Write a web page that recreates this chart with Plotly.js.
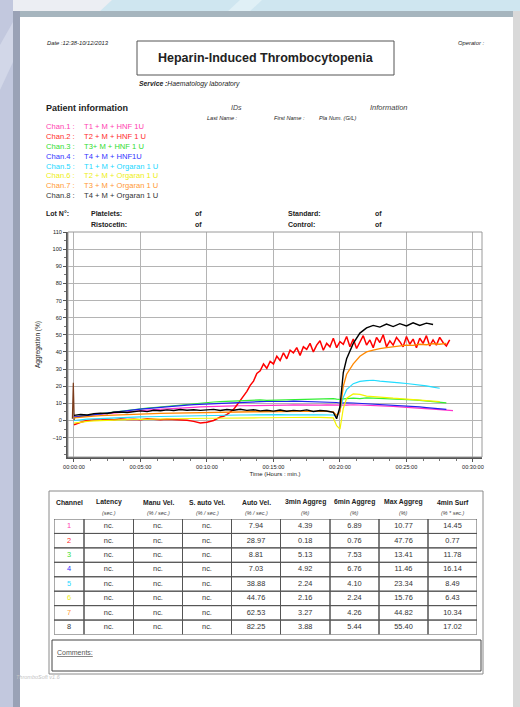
<!DOCTYPE html>
<html><head><meta charset="utf-8">
<script src="https://cdn.plot.ly/plotly-3.0.1.min.js"></script>
<style>html,body{margin:0;padding:0;background:#fff;}#chart{width:520px;height:707px;}</style>
</head><body><div id="chart"></div>
<script>
// ---------------- DATA ----------------
const chanLabels = ['Chan.1 :','Chan.2 :','Chan.3 :','Chan.4 :','Chan.5 :','Chan.6 :','Chan.7 :','Chan.8 :'];
const chanDescs = ['T1 + M + HNF 1U','T2 + M + HNF 1 U','T3+ M + HNF 1 U','T4 + M + HNF1U','T1 + M + Orgaran 1 U','T2 + M + Orgaran 1 U','T3 + M + Orgaran 1 U','T4 + M + Orgaran 1 U'];
const chanTextColors = ['#ff40b0','#ff2a2a','#30dd30','#3333ff','#22d8ff','#eeee10','#ff9933','#333333'];
const chanLineColors = ['#ff33cc','#ff0000','#33ee33','#2222ee','#22ddff','#f4f400','#ff8800','#000000'];

// time in minutes
const timeMin = [0,0.5,1,1.5,2,2.5,3,3.5,4,4.5,
 5,5.5,6,6.5,7,7.5,8,8.5,9,9.5,
 10,10.5,11,11.5,12,12.5,13,13.5,14,14.5,
 15,15.5,16,16.5,17,17.5,18,18.5,19,19.5,
 19.75,20,20.25,20.5,21,21.5,22,22.5,23,23.5,
 24,24.5,25,25.5,26,26.5,27,27.5,28,28.5];
const timeRed = [0,0.5,1,1.5,2,2.5,3,3.5,4,4.5,5,5.5,6,6.5,7,7.5,8,8.5,9,9.5,10,10.5,
 11,11.25,11.5,11.75,12,12.25,12.5,12.75,13,13.25,13.5,13.75,14,14.25,14.5,14.75,
 15,15.25,15.5,15.75,16,16.25,16.5,16.75,17,17.25,17.5,17.75,18,18.25,18.5,18.75,
 19,19.25,19.5,19.75,20,20.25,20.5,20.75,21,21.25,21.5,21.75,22,22.25,22.5,22.75,
 23,23.25,23.5,23.75,24,24.25,24.5,24.75,25,25.25,25.5,25.75,26,26.25,26.5,26.75,
 27,27.25,27.5,27.75,28,28.25];

// aggregation (%)
const chan1 = [2,2.3,2.8,3.2,3.6,4,4.4,4.8,5.1,5.4,
 5.7,6,6.3,6.6,6.8,7,7.3,7.5,7.7,7.9,
 8.1,8.2,8.3,8.4,8.5,8.6,8.6,8.7,8.8,8.8,
 8.9,9,9,9.1,9,9.2,9.1,9,9.1,9,
 8.8,8.7,8.9,9,9.2,9.1,9,8.8,8.6,8.4,
 8.2,8,7.8,7.5,7.2,7,6.7,6.4,6.1,5.8];
const chan2 = [-2.5,-1,0,0.5,0.3,0.8,0.5,1,0.6,0.8,0.5,1,0.7,0.4,0.8,0.6,0.3,0.2,-0.5,-1.5,-1,0,
 2,2.5,3.5,5,6.5,9,11.5,14,17,20.5,23,27.5,
 29,33,30.5,34.5,
 33,37.5,35,39.5,36,41,39.5,42.5,38,43,41.5,45,40,44,46.5,41,
 45,43,48,42.5,46,44.5,49,43,47.5,42,46,49.5,44,47,42.5,48.5,
 45.5,50,43,46.5,44,48.5,46,43,49,44.5,47.5,42.5,48,45,49.5,43.5,
 47,44,48.5,45.5,43.5,47];
const chan3 = [1.5,2.5,3,3.5,4,4.6,5,5.6,6,6.4,
 6.8,7.2,7.6,8,8.3,8.8,9,9.5,9.9,10.3,
 10.6,10.8,11,11.2,11.4,11.6,11.8,11.9,12,11.8,
 11.9,12.1,12,12.3,12.5,12.4,12.6,12.8,12.6,12.8,
 12.5,12.3,12.6,12.8,13,12.8,13.2,13,12.9,12.7,
 12.5,12.3,12.2,12,11.8,11.5,11.2,10.8,10.3];
const chan4 = [2,2.5,3,3.6,4,4.5,5,5.4,5.8,6.2,
 6.6,7,7.3,7.6,8,8.3,8.6,9,9.3,9.5,
 9.8,10,10.2,10.4,10.6,10.8,10.8,11,11,11.1,
 11,11.2,11.1,11.3,11.2,11.2,11,11.1,11,10.8,
 10.5,10.2,10.4,10.3,10.2,10,9.8,9.6,9.4,9.2,
 9,8.7,8.5,8.2,7.9,7.5,7.2,6.8,6.5];
const chan5 = [0,0.5,0.8,1,1.2,1.5,1.6,1.8,1.9,2,
 2.1,2.2,2.3,2.4,2.5,2.6,2.7,2.8,2.8,2.9,
 3,3,3.1,3.1,3.2,3.2,3.2,3.3,3.3,3.3,
 3.3,3.4,3.3,3.4,3.3,3.4,3.3,3.3,3.2,3.2,
 2.5,6,13.5,18,21.5,22.8,23.3,23.5,23,22.8,
 22.5,22,21.6,21.2,20.8,20.2,19.5,18.8];
const chan6 = [-1.5,-0.8,-0.5,-0.2,0,0.2,0.3,0.5,0.5,0.6,
 0.7,0.8,0.8,0.9,1,1,1.1,1.1,1.2,1.2,
 1.3,1.3,1.4,1.4,1.5,1.5,1.5,1.6,1.6,1.6,
 1.7,1.7,1.8,1.7,1.8,1.8,1.9,1.8,1.8,1.5,
 -3,-5,7,13,15.5,15.2,14.2,13.8,13.5,13.2,
 13,12.8,12.5,12.3,12,11.8,11.5,11];
const chan7 = [1.5,2,2.3,2.6,2.8,3,3.2,3.4,3.5,3.7,
 3.8,3.9,4,4.1,4.2,4.3,4.3,4.4,4.5,4.5,
 4.6,4.7,4.8,4.8,4.9,5,5,5.1,5.1,5.2,
 5.2,5.3,5.2,5.3,5.4,5.3,5.4,5.4,5.3,5,
 3,5,20,27,33,37.5,40,41,42,42.5,
 43,43.5,44,43.8,44.5,44.2,44.8,44.5,45];
const chan8 = [3,3.5,3.2,4,4.3,4.1,4.8,5,4.7,5.3,
 5.6,5.2,6,5.7,6.2,5.8,6.4,6,6.3,5.9,
 6.2,6.5,5.8,6.4,6,6.6,5.9,6.3,5.6,6,
 5.5,6.1,5.4,5.9,5.6,6.2,5.3,5.8,5.5,4.8,
 1,8,28,36,45,51,54,55.5,54.5,56.3,
 54.8,56.5,55.2,57,55.5,56.8,56];
const spikeTime = [-0.12,-0.05,0.02];
const spikeValue = [1,22,0];

const xTickVals = [0,5,10,15,20,25,30];
const xTickText = ['00:00:00','00:05:00','00:10:00','00:15:00','00:20:00','00:25:00','00:30:00'];
const yTickVals = [-10,0,10,20,30,40,50,60,70,80,90,100,110];

// results table
const tableHeads = ['Channel','Latency','Manu Vel.','S. auto Vel.','Auto Vel.','3min Aggreg','6min Aggreg','Max Aggreg','4min Surf'];
const tableUnits = ['','(sec.)','(% / sec.)','(% / sec.)','(% / sec.)','(%)','(%)','(%)','(% * sec.)'];
const channelIds = ['1','2','3','4','5','6','7','8'];
const latency = ['nc.','nc.','nc.','nc.','nc.','nc.','nc.','nc.'];
const manuVel = ['nc.','nc.','nc.','nc.','nc.','nc.','nc.','nc.'];
const sAutoVel = ['nc.','nc.','nc.','nc.','nc.','nc.','nc.','nc.'];
const autoVel = [7.94,28.97,8.81,7.03,38.88,44.76,62.53,82.25];
const aggreg3min = [4.39,0.18,5.13,4.92,2.24,2.16,3.27,3.88];
const aggreg6min = [6.89,0.76,7.53,6.76,4.10,2.24,4.26,5.44];
const maxAggreg = [10.77,47.76,13.41,11.46,23.34,15.76,44.82,55.40];
const surf4min = [14.45,0.77,11.78,16.14,8.49,6.43,10.34,17.02];

// ---------------- LAYOUT HELPERS ----------------
const W = 520, H = 707;
const F = 'Liberation Sans, Arial, sans-serif';
const px = x => x / W;
const py = y => 1 - y / H;
function txt(x, y, text, size, opts) {
  return Object.assign({xref:'paper', yref:'paper', x:px(x), y:py(y), text:text, showarrow:false,
    xanchor:'left', yanchor:'middle', font:{family:F, size:size, color:'#222'}}, opts || {});
}
function rect(x0, y0, x1, y1, fill, line, lw) {
  return {type:'rect', xref:'paper', yref:'paper', x0:px(x0), x1:px(x1), y0:py(y0), y1:py(y1),
    fillcolor: fill || 'rgba(0,0,0,0)', line:{color: line || 'rgba(0,0,0,0)', width: lw || 0}, layer:'below'};
}
function poly(points, fill) {
  const d = points.map((p, i) => (i ? 'L' : 'M') + px(p[0]) + ',' + py(p[1])).join(' ') + ' Z';
  return {type:'path', xref:'paper', yref:'paper', path:d, fillcolor:fill, line:{width:0}, layer:'below'};
}

// ---------------- CHART TRACES ----------------
const series = [chan1, chan2, chan3, chan4, chan5, chan6, chan7, chan8];
const lineWidths = [1.2, 1.5, 1.2, 1.2, 1.2, 1.2, 1.3, 1.4];
const traces = [{type:'scatter', mode:'lines', x:spikeTime, y:spikeValue, line:{color:'#7a3a1a', width:1.2}, showlegend:false, hoverinfo:'skip'}];
series.forEach((vals, i) => traces.push({
  type:'scatter', mode:'lines', name: chanLabels[i] + ' ' + chanDescs[i],
  x: i === 1 ? timeRed : timeMin, y: vals,
  line:{color: chanLineColors[i], width: lineWidths[i]}, showlegend:false, hoverinfo:'skip'
}));

// ---------------- TABLE (second pair of axes) ----------------
const colWidths = [30,49.5,49,49,49,49.5,49,49,49];
const colEdges = [0];
colWidths.forEach(w => colEdges.push(colEdges[colEdges.length - 1] + w));
const colCenters = colWidths.map((w, i) => colEdges[i] + w / 2);
const tableCols = [channelIds, latency, manuVel, sAutoVel,
  autoVel.map(v => v.toFixed(2)), aggreg3min.map(v => v.toFixed(2)), aggreg6min.map(v => v.toFixed(2)),
  maxAggreg.map(v => v.toFixed(2)), surf4min.map(v => v.toFixed(2))];
const rowCenters = channelIds.map((_, r) => r + 0.5);
tableCols.forEach((col, c) => traces.push({
  type:'scatter', mode:'text', xaxis:'x2', yaxis:'y2', cliponaxis:false,
  x: col.map(() => colCenters[c]), y: rowCenters, text: col, textposition:'middle center',
  textfont:{family:F, size:7.4, color: c === 0 ? chanTextColors : '#333'},
  showlegend:false, hoverinfo:'skip'
}));

// ---------------- SHAPES ----------------
const shapes = [
  rect(0, 0, 520, 17, '#cfe6f0'),
  poly([[0,0],[112,0],[98,13],[0,13]], '#eceef3'),
  poly([[240,0],[262,0],[248,13],[226,13]], '#e0f0f6'),
  rect(13, 11, 520, 17, '#a6b5be'),
  rect(0, 0, 13, 707, '#c2c8de'),
  poly([[0,45],[13,22],[13,62],[0,90]], '#d2d7e8'),
  rect(13, 11, 20, 707, '#9aa2b6'),
  rect(513, 11, 520, 707, '#d9d9d9'),
  rect(20, 17, 513, 707, '#ffffff'),
  rect(137, 41, 394, 75, null, '#555', 1),
  rect(49, 491, 483, 674, null, '#8a8a8a', 1),
  rect(52, 640, 481, 671, null, '#444', 1),
  {type:'rect', xref:'x domain', yref:'y domain', x0:0, x1:1, y0:0, y1:1, line:{color:'#9a9a9a', width:1}, layer:'above'}
];
tableCols.forEach((col, c) => col.forEach((_, r) => shapes.push({
  type:'rect', xref:'x2', yref:'y2', x0:colEdges[c], x1:colEdges[c + 1], y0:r, y1:r + 1,
  line:{color:'#555', width:1}, fillcolor:'rgba(0,0,0,0)'
})));

// ---------------- ANNOTATIONS ----------------
const ann = [
  txt(45, 43, '<i>Date :12:38-10/12/2013</i>', 5.8),
  txt(486, 43, '<i>Operator :</i>', 5.8, {xanchor:'right'}),
  txt(265.5, 58, '<b>Heparin-Induced Thrombocytopenia</b>', 12.5, {xanchor:'center'}),
  txt(137, 84, '<b><i>Service :</i></b><i>Haematology laboratory</i>', 6.8),
  txt(44, 108, '<b>Patient information</b>', 9),
  txt(236, 107, '<i>IDs</i>', 7, {xanchor:'center', font:{family:F, size:7, color:'#444'}}),
  txt(389, 107, '<i>Information</i>', 7.5, {xanchor:'center', font:{family:F, size:7.5, color:'#444'}}),
  txt(205, 117.5, '<i>Last Name :</i>', 5.6),
  txt(272, 117.5, '<i>First Name :</i>', 5.6),
  txt(317, 117.5, '<i>Pla Num. (G/L)</i>', 5.6),
  txt(44, 213, '<b>Lot N°:</b>', 7),
  txt(89, 213, '<b>Platelets:</b>', 7),
  txt(193, 213, '<b>of</b>', 7),
  txt(286, 213, '<b>Standard:</b>', 7),
  txt(373, 213, '<b>of</b>', 7),
  txt(89, 224, '<b>Ristocetin:</b>', 7),
  txt(193, 224, '<b>of</b>', 7),
  txt(286, 224, '<b>Control:</b>', 7),
  txt(373, 224, '<b>of</b>', 7),
  txt(55, 652, '<u>Comments:</u>', 7, {font:{family:F, size:7, color:'#555'}}),
  txt(14, 677, '<i>ThromboSoft v1.6</i>', 5.5, {font:{family:F, size:5.5, color:'#c4c4c4'}})
];
chanLabels.forEach((lab, i) => {
  const y = 126.7 + i * 9.85;
  ann.push(txt(44, y, lab, 7.6, {font:{family:F, size:7.6, color:chanTextColors[i]}}));
  ann.push(txt(82, y, chanDescs[i], 7.6, {font:{family:F, size:7.6, color:chanTextColors[i]}}));
});
tableHeads.forEach((h, c) => {
  ann.push({xref:'x2', yref:'paper', x:colCenters[c], y:py(502), text:'<b>' + h + '</b>', showarrow:false,
    xanchor:'center', yanchor:'middle', font:{family:F, size:6.8, color:'#222'}});
  if (tableUnits[c]) ann.push({xref:'x2', yref:'paper', x:colCenters[c], y:py(512.5), text:'<i>' + tableUnits[c] + '</i>', showarrow:false,
    xanchor:'center', yanchor:'middle', font:{family:F, size:5.4, color:'#444'}});
});

const layout = {
  width:W, height:H, margin:{l:0, r:0, t:0, b:0},
  paper_bgcolor:'#ffffff', plot_bgcolor:'#ffffff',
  font:{family:F, color:'#222'},
  xaxis:{domain:[px(68), px(482)], range:[-0.45, 30.68], tickmode:'array', tickvals:xTickVals, ticktext:xTickText,
    showgrid:true, gridcolor:'#b4b4b4', gridwidth:1, zeroline:false,
    showline:true, linecolor:'#555', linewidth:2, ticks:'outside', ticklen:3, tickcolor:'#555',
    minor:{tick0:0, dtick:1.25, ticks:'outside', ticklen:2, tickcolor:'#777', showgrid:false},
    tickfont:{family:F, size:5.6, color:'#222'},
    title:{text:'Time (Hours : min.)', font:{family:F, size:6, color:'#222'}, standoff:3}},
  yaxis:{domain:[py(457), py(232)], range:[-21.3, 110], tickmode:'array', tickvals:yTickVals,
    showgrid:true, gridcolor:'#b4b4b4', gridwidth:1, zeroline:false,
    showline:true, linecolor:'#555', linewidth:2, ticks:'outside', ticklen:3, tickcolor:'#555',
    minor:{tick0:0, dtick:5, ticks:'outside', ticklen:2, tickcolor:'#777', showgrid:false},
    tickfont:{family:F, size:5.6, color:'#222'},
    title:{text:'Aggregation (%)', font:{family:F, size:6.5, color:'#222'}, standoff:11}},
  xaxis2:{domain:[px(54), px(477)], range:[0, 423], anchor:'y2', visible:false, fixedrange:true},
  yaxis2:{domain:[py(634.5), py(519)], range:[8, 0], anchor:'x2', visible:false, fixedrange:true},
  shapes:shapes, annotations:ann
};

Plotly.newPlot('chart', traces, layout, {staticPlot:true, displayModeBar:false});
</script></body></html>
